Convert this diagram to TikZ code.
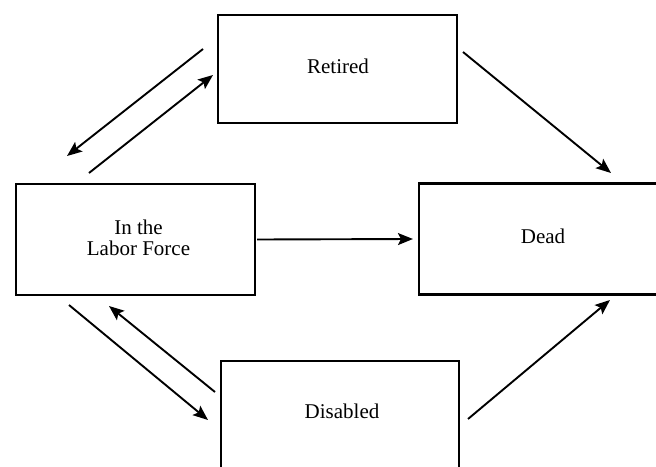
\documentclass[tikz,border=0pt]{standalone}
\usepackage{fontspec}
\setmainfont{Liberation Serif}
\usetikzlibrary{arrows.meta}
\begin{document}
\begin{tikzpicture}[x=1pt,y=-1pt,
  statebox/.style={draw,line width=2.1pt,minimum width=#1,inner sep=0pt},
  lbl/.style={font=\fontsize{21}{21}\selectfont,align=center,inner sep=0pt},
  flow/.style={line width=1.9pt,-{Stealth[length=15pt,width=12pt,inset=3pt]}}]
\useasboundingbox (0,0) rectangle (656,466);
\clip (0,0) rectangle (656,466);
% boxes
\node[statebox=239pt,minimum height=108pt] (ret) at (337.5,69) {};
\node[statebox=239pt,minimum height=111pt] (lab) at (135.5,239.5) {};
\node[statebox=248pt,minimum height=111pt] (dead) at (543,239) {};
\node[statebox=238pt,minimum height=109pt] (dis) at (340,415.5) {};
% labels
\node[lbl] (retL) at (338,66) {Retired};
\node[lbl] (labL) at (138.5,238) {In the\\Labor Force};
\node[lbl] (deadL) at (543,236) {Dead};
\node[lbl] (disL) at (342,411) {Disabled};
% connector end points
\coordinate (rl1) at (203,49);  \coordinate (rl2) at (67,156);
\coordinate (lr1) at (89,173);  \coordinate (lr2) at (213,75);
\coordinate (rd1) at (463,52);  \coordinate (rd2) at (611,173);
\coordinate (ld1) at (69,305);  \coordinate (ld2) at (208,420);
\coordinate (dl1) at (215,392); \coordinate (dl2) at (109,306);
\coordinate (dd1) at (468,419); \coordinate (dd2) at (610,300);
% connectors
\draw[flow] (rl1) -- (rl2);
\draw[flow] (lr1) -- (lr2);
\draw[flow] (rd1) -- (rd2);
\draw[flow] ([xshift=1pt]lab.east) -- ([xshift=-5pt]dead.west);
\draw[flow] (ld1) -- (ld2);
\draw[flow] (dl1) -- (dl2);
\draw[flow] (dd1) -- (dd2);
\end{tikzpicture}
\end{document}
